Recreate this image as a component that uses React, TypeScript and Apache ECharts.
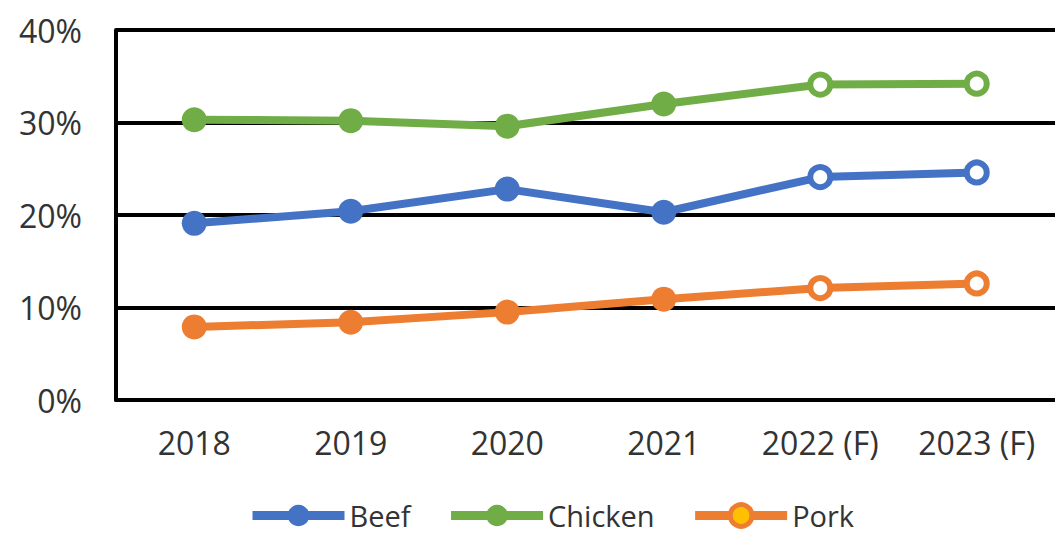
import React, { useEffect, useRef } from "react";
import * as echarts from "echarts";

const categories = ["2018", "2019", "2020", "2021", "2022 (F)", "2023 (F)"];
const forecastFlags = [false, false, false, false, true, true];
const beef = [19.1, 20.4, 22.8, 20.3, 24.1, 24.6];
const chicken = [30.3, 30.2, 29.6, 32.0, 34.1, 34.2];
const pork = [7.9, 8.4, 9.5, 10.9, 12.1, 12.6];
const yTicks = [0, 10, 20, 30, 40];

const BLUE = "#4472C4";
const GREEN = "#70AD47";
const ORANGE = "#ED7D31";
const FONT = "Open Sans";
const TEXT = "#333333";

function toData(values: number[], color: string) {
  return values.map((v, i) =>
    forecastFlags[i]
      ? {
          value: v,
          symbolSize: 20,
          itemStyle: { color: "#ffffff", borderColor: color, borderWidth: 6 },
        }
      : { value: v }
  );
}

function makeSeries(name: string, values: number[], color: string) {
  return {
    name,
    type: "line",
    data: toData(values, color),
    symbol: "circle",
    symbolSize: 25,
    color,
    lineStyle: { color, width: 8 },
    itemStyle: { color },
    z: 3,
  };
}

export default function App() {
  const ref = useRef<HTMLDivElement>(null);
  useEffect(() => {
    if (!ref.current) return;
    const chart = echarts.init(ref.current, null, { renderer: "svg" });
    chart.setOption({
      animation: false,
      backgroundColor: "#ffffff",
      grid: { left: 116, top: 30, width: 948, bottom: 135, containLabel: false },
      xAxis: {
        type: "category",
        data: categories,
        boundaryGap: true,
        axisLine: { show: true, lineStyle: { color: "#000", width: 4 } },
        axisTick: { show: false },
        axisLabel: { color: TEXT, fontFamily: FONT, fontSize: 32, margin: 26 },
        splitLine: { show: false },
      },
      yAxis: {
        type: "value",
        min: yTicks[0],
        max: yTicks[yTicks.length - 1],
        interval: 10,
        axisLine: { show: true, lineStyle: { color: "#000", width: 4 } },
        axisTick: { show: false },
        axisLabel: {
          color: TEXT,
          fontFamily: FONT,
          fontSize: 32,
          margin: 34,
          formatter: "{value}%",
        },
        splitLine: { show: true, lineStyle: { color: "#000", width: 4 } },
      },
      legend: {
        left: 248,
        top: 501,
        padding: 0,
        itemWidth: 92,
        itemHeight: 27,
        itemGap: 36,
        textStyle: {
          color: TEXT,
          fontFamily: FONT,
          fontSize: 29,
          lineHeight: 28,
          padding: [0, 0, 0, 0],
        },
        data: [
          { name: "Beef", lineStyle: { width: 9, color: BLUE } },
          { name: "Chicken", lineStyle: { width: 9, color: GREEN } },
          {
            name: "Pork",
            lineStyle: { width: 9, color: ORANGE },
            itemStyle: { color: "#FFC000", borderColor: ORANGE, borderWidth: 5 },
          },
        ],
      },
      series: [
        makeSeries("Beef", beef, BLUE),
        makeSeries("Chicken", chicken, GREEN),
        makeSeries("Pork", pork, ORANGE),
      ],
    });
    return () => chart.dispose();
  }, []);
  return (
    <div
      ref={ref}
      style={{ position: "fixed", left: 0, top: 0, width: 1055, height: 535, background: "#fff" }}
    />
  );
}
